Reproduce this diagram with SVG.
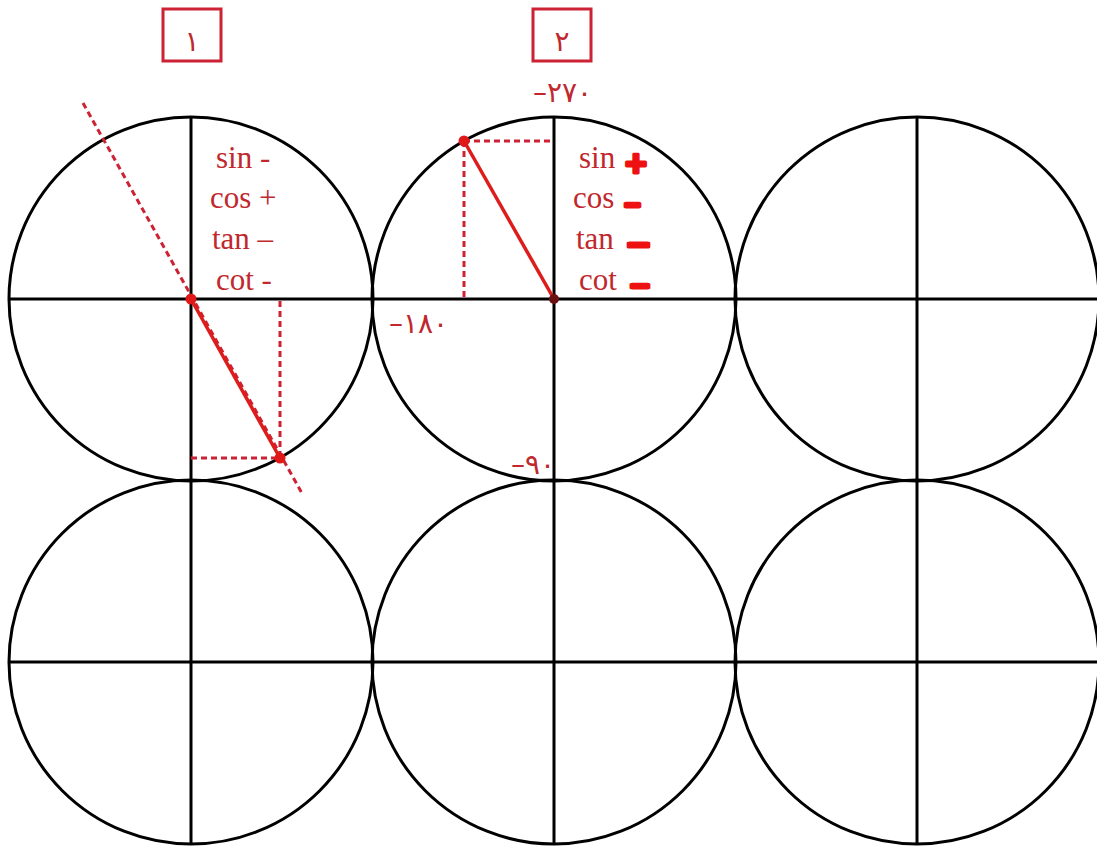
<svg xmlns="http://www.w3.org/2000/svg" width="1097" height="848" viewBox="0 0 1097 848">
<style>
.c{fill:none;stroke:#000;stroke-width:3}
.ax{stroke:#000;stroke-width:3}
.dash{stroke:#cc2233;stroke-width:3;stroke-dasharray:6 4;fill:none}
.seg{stroke:#dd1c1c;stroke-width:3.5}
.dot{fill:#e01818}
.box{fill:none;stroke:#cc2233;stroke-width:3}
.tr{font-family:"Liberation Serif",serif;font-size:31px;fill:#c0282d}
.num{font-family:"DejaVu Sans",sans-serif;font-size:28px;fill:#c0282d;direction:ltr}
.hand{font-family:"Liberation Sans",sans-serif;font-weight:bold;fill:#ee1111;stroke:#ee1111;stroke-width:3;stroke-linejoin:round}
</style>
<rect width="1097" height="848" fill="#fff"/>
<g id="grid">
<circle id="c1" class="c" cx="191" cy="299" r="182"/>
<circle id="c2" class="c" cx="554" cy="299" r="182"/>
<circle id="c3" class="c" cx="917" cy="299" r="182"/>
<circle id="c4" class="c" cx="191" cy="662" r="182"/>
<circle id="c5" class="c" cx="554" cy="662" r="182"/>
<circle id="c6" class="c" cx="917" cy="662" r="182"/>
<line class="ax" x1="8" y1="299" x2="1097" y2="299"/>
<line class="ax" x1="8" y1="662" x2="1097" y2="662"/>
<line class="ax" x1="191" y1="117" x2="191" y2="844"/>
<line class="ax" x1="554" y1="117" x2="554" y2="844"/>
<line class="ax" x1="917" y1="117" x2="917" y2="844"/>
</g>
<g id="box1">
<rect class="box" x="163" y="9" width="58" height="52"/>
<text class="num" x="192" y="51" font-size="44" text-anchor="middle">١</text>
</g>
<g id="box2">
<rect class="box" x="533" y="9" width="58" height="52"/>
<text class="num" x="562" y="51" font-size="44" text-anchor="middle">٢</text>
</g>
<g id="connectors">
<line class="dash" x1="83" y1="103" x2="303" y2="495"/>
<line class="dash" x1="280" y1="301" x2="280" y2="458"/>
<line class="dash" x1="191" y1="458" x2="280" y2="458"/>
<line class="seg" x1="191" y1="299" x2="280" y2="458"/>
<line class="dash" x1="464" y1="141" x2="554" y2="141"/>
<line class="dash" x1="464" y1="141" x2="464" y2="299"/>
<line class="seg" x1="464" y1="141" x2="554" y2="299"/>
</g>
<g id="dots">
<circle class="dot" cx="191" cy="299" r="5.5"/>
<circle class="dot" cx="280" cy="458" r="5.5"/>
<circle class="dot" cx="464" cy="141" r="5.5"/>
<circle cx="554" cy="299" r="5" fill="#6a1010"/>
</g>
<g id="signs1">
<text class="tr" x="216" y="168">sin -</text>
<text class="tr" x="210" y="208">cos +</text>
<text class="tr" x="212" y="249">tan –</text>
<text class="tr" x="216" y="290">cot -</text>
</g>
<g id="signs2">
<text class="tr" x="579" y="168">sin</text>
<text class="tr" x="573" y="208">cos</text>
<text class="tr" x="576" y="249">tan</text>
<text class="tr" x="579" y="290">cot</text>
<text class="hand" x="625" y="176" font-size="36" textLength="22" lengthAdjust="spacingAndGlyphs">+</text>
<text class="hand" x="624" y="213" font-size="32" textLength="17" lengthAdjust="spacingAndGlyphs">-</text>
<text class="hand" x="627" y="254" font-size="34" textLength="23" lengthAdjust="spacingAndGlyphs">-</text>
<text class="hand" x="630" y="294" font-size="32" textLength="20" lengthAdjust="spacingAndGlyphs">-</text>
</g>
<g id="angles">
<text class="num" x="533" y="102">–٢٧٠</text>
<text class="num" x="389" y="333">–١٨٠</text>
<text class="num" x="511" y="474">–٩٠</text>
</g>
</svg>
